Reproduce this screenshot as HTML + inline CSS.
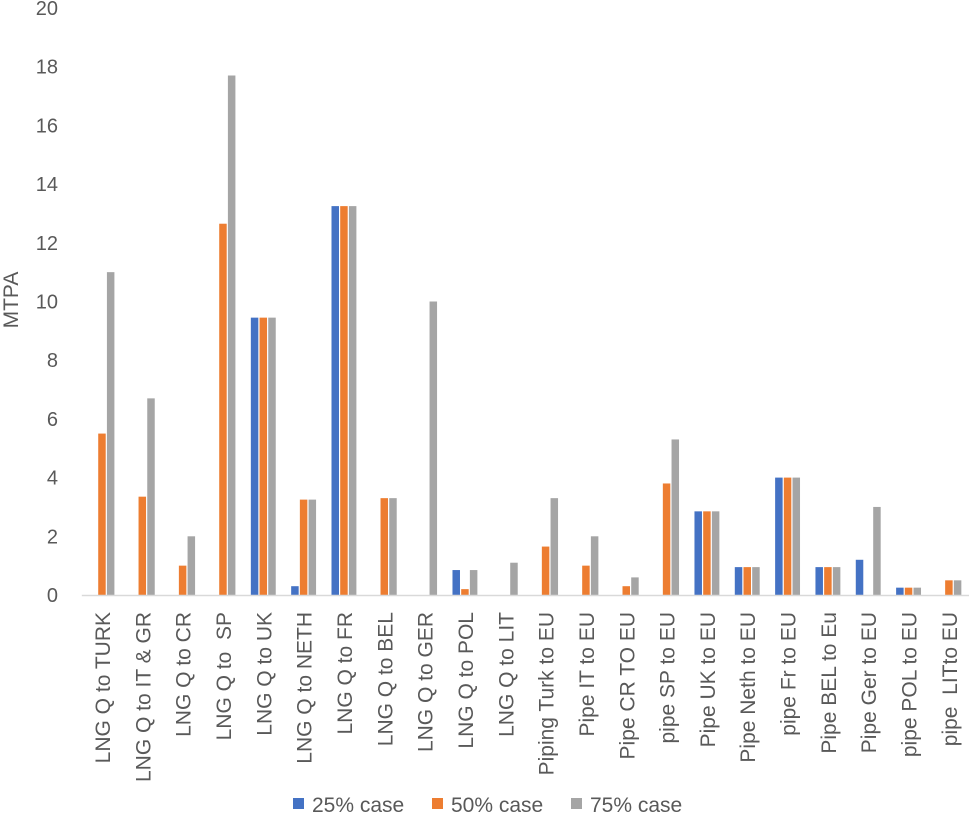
<!DOCTYPE html>
<html><head><meta charset="utf-8"><style>
body{margin:0;background:#fff;}
svg text{font-family:"Liberation Sans",sans-serif;fill:#595959;white-space:pre;}
</style></head><body>
<svg id="chart" width="969" height="815" xmlns="http://www.w3.org/2000/svg">
<g id="yaxis"></g>
<g id="bars"></g>
<g id="xaxis"></g>
<text transform="translate(18,300) rotate(-90)" text-anchor="middle" font-size="21">MTPA</text>
<g>
 <g><rect x="293" y="798" width="11" height="11" fill="#4472C4"/><text x="312" y="812" font-size="21">25% case</text></g>
 <g><rect x="432" y="798" width="11" height="11" fill="#ED7D31"/><text x="451" y="812" font-size="21">50% case</text></g>
 <g><rect x="571" y="798" width="11" height="11" fill="#A5A5A5"/><text x="590" y="812" font-size="21">75% case</text></g>
</g>
</svg>
<script>
const categories=["LNG Q to TURK","LNG Q to IT & GR","LNG Q to CR","LNG Q to  SP","LNG Q to UK","LNG Q to NETH","LNG Q to FR","LNG Q to BEL","LNG Q to GER","LNG Q to POL","LNG Q to LIT","Piping Turk to EU","Pipe IT to EU","Pipe CR TO EU","pipe SP to EU","Pipe UK to EU","Pipe Neth to EU","pipe Fr to EU","Pipe BEL to Eu","Pipe Ger to EU","pipe POL to EU","pipe  LITto EU"];
const case25=[0,0,0,0,9.45,0.3,13.25,0,0,0.85,0,0,0,0,0,2.85,0.95,4,0.95,1.2,0.25,0];
const case50=[5.5,3.35,1,12.65,9.45,3.25,13.25,3.3,0,0.2,0,1.65,1,0.3,3.8,2.85,0.95,4,0.95,0,0.25,0.5];
const case75=[11,6.7,2,17.7,9.45,3.25,13.25,3.3,10,0.85,1.1,3.3,2,0.6,5.3,2.85,0.95,4,0.95,3,0.25,0.5];
const yTicks=[0,2,4,6,8,10,12,14,16,18,20];
const NS="http://www.w3.org/2000/svg";
const x0=81.8,band=40.33,yBase=595,yTop=8,yMax=20;
const y=v=>yBase-(v/yMax)*(yBase-yTop);
const xc=i=>x0+band*(i+0.5);
function mk(tag,attrs,parent){const e=document.createElementNS(NS,tag);for(const k in attrs)e.setAttribute(k,attrs[k]);parent.appendChild(e);return e;}
const ya=document.getElementById('yaxis'),bg=document.getElementById('bars'),xa=document.getElementById('xaxis');
yTicks.forEach(t=>{const e=mk('text',{x:58,y:y(t)+7,'text-anchor':'end','font-size':'20'},ya);e.textContent=t;

});
const series=[[case25,'#4472C4'],[case50,'#ED7D31'],[case75,'#A5A5A5']];
const bw=7.5,step=8.7;
categories.forEach((c,i)=>{
 series.forEach((s,j)=>{const v=s[0][i];if(v<=0)return;
  const r=mk('rect',{x:xc(i)+(j-1)*step-bw/2,y:y(v),width:bw,height:yBase-y(v),fill:s[1]},bg);
  
  });
 const t=mk('text',{transform:`translate(${xc(i)+8},612) rotate(-90)`,'text-anchor':'end','font-size':'21'},xa);
 t.textContent=c;
 
 
});
const ax=mk('line',{x1:x0,x2:969,y1:yBase+0.5,y2:yBase+0.5,stroke:'#D9D9D9','stroke-width':1.5},xa);


</script>
</body></html>
